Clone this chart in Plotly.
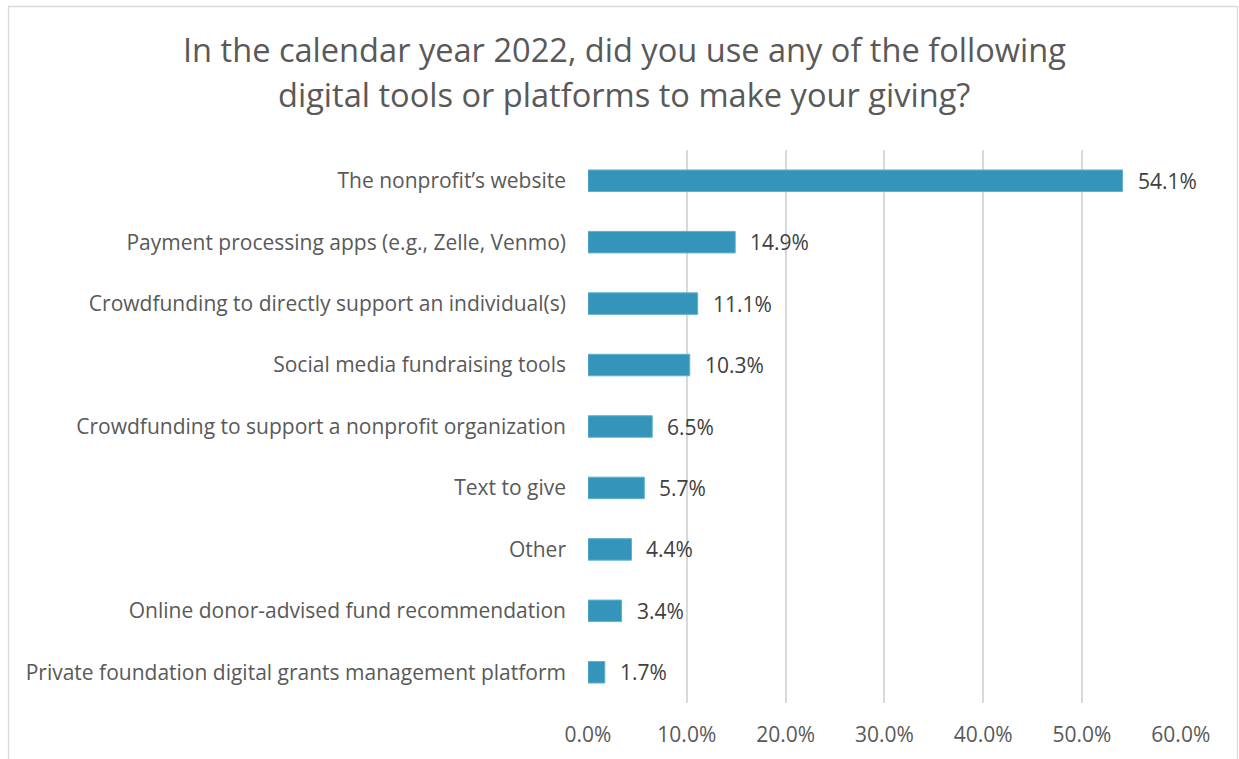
import plotly.graph_objects as go

# Survey responses, listed top to bottom as displayed
categories = [
    "The nonprofit\u2019s website",
    "Payment processing apps (e.g., Zelle, Venmo)",
    "Crowdfunding to directly support an individual(s)",
    "Social media fundraising tools",
    "Crowdfunding to support a nonprofit organization",
    "Text to give",
    "Other",
    "Online donor-advised fund recommendation",
    "Private foundation digital grants management platform",
]
shares = [54.1, 14.9, 11.1, 10.3, 6.5, 5.7, 4.4, 3.4, 1.7]
tick_values = [0, 10, 20, 30, 40, 50, 60]
tick_labels = ["0.0%", "10.0%", "20.0%", "30.0%", "40.0%", "50.0%", "60.0%"]
title_lines = [
    "In the calendar year 2022, did you use any of the following",
    "digital tools or platforms to make your giving?",
]

W, H = 1239, 759
PLOT_L, PLOT_R, PLOT_T, PLOT_B = 588, 1181, 150, 703
TEXT = "#595959"
FONT = "Open Sans"
BAR = "#3494BA"

pw = PLOT_R - PLOT_L
ph = PLOT_B - PLOT_T
def px_x(v):
    return (v - PLOT_L) / pw
def px_y(v):
    return (PLOT_B - v) / ph

fig = go.Figure()
fig.add_trace(go.Bar(
    x=shares,
    y=categories,
    orientation="h",
    marker=dict(color=BAR, line=dict(color="#5fb0cf", width=1)),
    hoverinfo="x+y",
))

# value labels to the right of each bar
for cat, val in zip(categories, shares):
    fig.add_annotation(
        x=val, y=cat, xref="x", yref="y",
        text=f"{val:.1f}%", showarrow=False,
        xanchor="left", yanchor="middle", xshift=13,
        font=dict(family=FONT, size=21, color="#404040"),
    )

# two-line title
for line, yc in zip(title_lines, [49, 94.5]):
    fig.add_annotation(
        x=px_x(624), y=px_y(yc), xref="paper", yref="paper",
        text=line, showarrow=False,
        xanchor="center", yanchor="middle",
        font=dict(family=FONT, size=32.6, color=TEXT),
    )

# chart frame
fig.add_shape(
    type="rect", xref="paper", yref="paper",
    x0=px_x(8.5), x1=px_x(1237.5), y0=px_y(780), y1=px_y(6.5),
    line=dict(color="#d9d9d9", width=1.3), fillcolor="rgba(0,0,0,0)",
    layer="below",
)

fig.update_layout(
    width=W, height=H,
    margin=dict(l=PLOT_L, r=W - PLOT_R, t=PLOT_T, b=H - PLOT_B, autoexpand=False),
    paper_bgcolor="white",
    plot_bgcolor="white",
    bargap=0.65,
    showlegend=False,
    font=dict(family=FONT, color=TEXT),
    xaxis=dict(
        range=[0, 60.02],
        tickvals=tick_values,
        ticktext=tick_labels,
        showgrid=True, gridcolor="#d9d9d9", gridwidth=1.5,
        zeroline=False, showline=False,
        ticks="", ticklabelstandoff=17,
        tickfont=dict(family=FONT, size=21, color=TEXT),
        fixedrange=True,
    ),
    yaxis=dict(
        categoryorder="array",
        categoryarray=list(reversed(categories)),
        showgrid=False, zeroline=False, showline=False,
        ticks="", ticklabelstandoff=21,
        tickfont=dict(family=FONT, size=21, color=TEXT),
        fixedrange=True,
    ),
)

fig.write_html("out.html")
